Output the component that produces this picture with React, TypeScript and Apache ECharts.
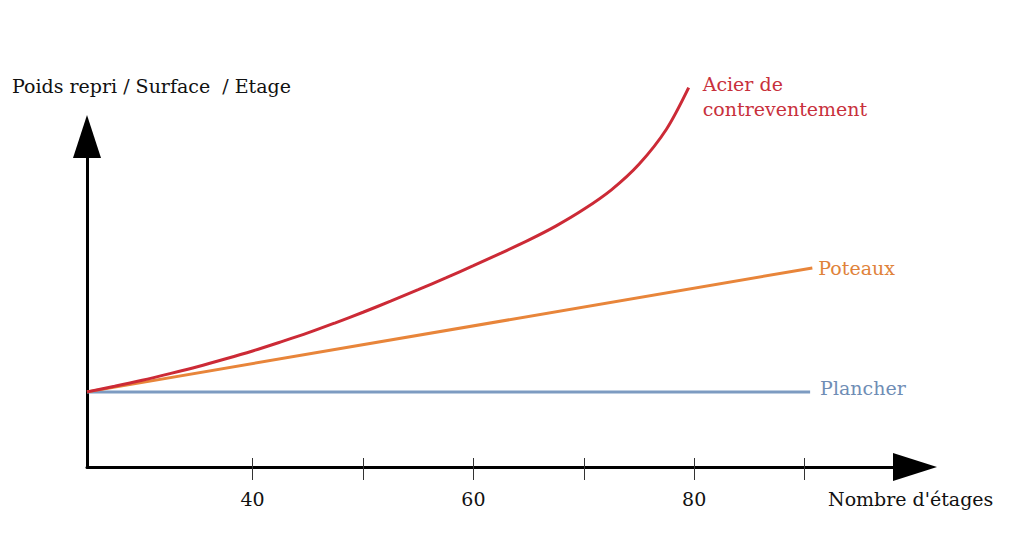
import React, { useEffect, useRef } from "react";
import * as echarts from "echarts";

// Nombre d'étages (x) — Poids repris relatif (y)
const acierX = [25, 27.5, 30, 32.5, 35, 37.5, 40, 42.5, 45, 47.5, 50, 52.5, 55, 57.5, 60, 62.5, 65, 67.5, 70, 72.5, 75, 77.5, 79.5];
const acierY = [1.0, 1.075, 1.155, 1.243, 1.335, 1.437, 1.545, 1.663, 1.785, 1.92, 2.06, 2.208, 2.36, 2.518, 2.68, 2.848, 3.02, 3.21, 3.43, 3.69, 4.03, 4.5, 5.05];
const poteauxX = [25, 90.7];
const poteauxY = [1.0, 2.65];
const plancherX = [25, 90.5];
const plancherY = [1.0, 1.0];
const tickValues = [40, 50, 60, 70, 80, 90];
const labelValues = [40, 60, 80];

const seriesNames = ["Acier de\ncontreventement", "Poteaux", "Plancher"];
const yTitle = "Poids repri / Surface  / Etage";
const xTitle = "Nombre d'étages";

const FONT = "DejaVu Serif";

const zip = (xs: number[], ys: number[]) => xs.map((x, i) => [x, ys[i]]);

export default function App() {
  const ref = useRef<HTMLDivElement>(null);
  useEffect(() => {
    if (!ref.current) return;
    const chart = echarts.init(ref.current, undefined, { renderer: "svg" });
    const xMin = 25;
    const xMax = 100;
    chart.setOption({
      animation: false,
      backgroundColor: "#ffffff",
      grid: { left: 87, right: 109, top: 136.5, bottom: 84, outerBoundsMode: "none" },
      xAxis: [
        {
          type: "value",
          min: xMin,
          max: xMax,
          position: "bottom",
          axisLine: {
            show: true,
            lineStyle: { color: "#000", width: 3 },
            symbol: ["none", "triangle"],
            symbolSize: [28, 44],
          },
          axisTick: {
            show: true,
            inside: false,
            length: 13,
            customValues: tickValues,
            lineStyle: { color: "#333", width: 1 },
          },
          axisLabel: {
            show: true,
            customValues: labelValues,
            margin: 22,
            fontSize: 19,
            fontFamily: FONT,
            color: "#111",
          },
          splitLine: { show: false },
        },
        {
          type: "value",
          min: xMin,
          max: xMax,
          position: "bottom",
          axisLine: { show: false },
          axisTick: {
            show: true,
            inside: true,
            length: 9,
            customValues: tickValues,
            lineStyle: { color: "#333", width: 1 },
          },
          axisLabel: { show: false },
          splitLine: { show: false },
        },
      ],
      yAxis: {
        type: "value",
        min: 0,
        max: 4.4,
        axisLine: {
          show: true,
          onZero: false,
          lineStyle: { color: "#000", width: 3 },
          symbol: ["none", "triangle"],
          symbolSize: [28, 43],
        },
        axisTick: { show: false },
        axisLabel: { show: false },
        splitLine: { show: false },
      },
      graphic: [
        {
          type: "text",
          left: 12,
          top: 76,
          style: { text: yTitle, font: `19px '${FONT}'`, fill: "#111" },
        },
        {
          type: "text",
          left: 828,
          top: 489,
          style: { text: xTitle, font: `19px '${FONT}'`, fill: "#111" },
        },
      ],
      series: [
        {
          name: seriesNames[2],
          type: "line",
          data: zip(plancherX, plancherY),
          showSymbol: false,
          clip: false,
          lineStyle: { color: "#7d9bc1", width: 3 },
          itemStyle: { color: "#7d9bc1" },
          endLabel: {
            show: true,
            formatter: seriesNames[2],
            distance: 10,
            offset: [0, -4],
            color: "#6f8db5",
            fontSize: 19,
            fontFamily: FONT,
          },
        },
        {
          name: seriesNames[1],
          type: "line",
          data: zip(poteauxX, poteauxY),
          showSymbol: false,
          clip: false,
          lineStyle: { color: "#e8853a", width: 3 },
          itemStyle: { color: "#e8853a" },
          endLabel: {
            show: true,
            formatter: seriesNames[1],
            distance: 6,
            color: "#e0823a",
            fontSize: 19,
            fontFamily: FONT,
          },
        },
        {
          name: seriesNames[0],
          type: "line",
          data: zip(acierX, acierY),
          showSymbol: false,
          smooth: 0.3,
          clip: false,
          lineStyle: { color: "#cc2a36", width: 3 },
          itemStyle: { color: "#cc2a36" },
          endLabel: {
            show: true,
            formatter: seriesNames[0],
            distance: 14,
            offset: [0, 9],
            lineHeight: 25,
            color: "#c8303c",
            fontSize: 19,
            fontFamily: FONT,
          },
        },
      ],
    });
    return () => chart.dispose();
  }, []);
  return (
    <div
      ref={ref}
      style={{ position: "absolute", left: 0, top: 0, width: 1024, height: 551 }}
    />
  );
}
